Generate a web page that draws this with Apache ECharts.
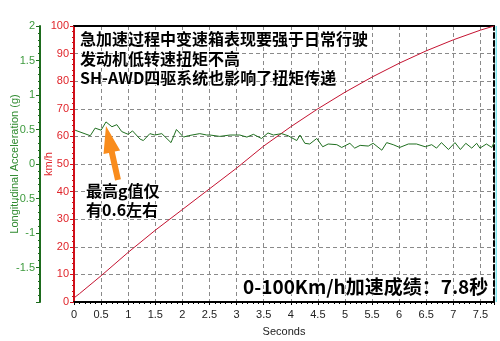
<!DOCTYPE html>
<html>
<head>
<meta charset="utf-8">
<script src="https://cdn.jsdelivr.net/npm/echarts@6/dist/echarts.min.js"></script>
<style>
  html, body { margin: 0; padding: 0; background: #ffffff; }
  #chart { width: 500px; height: 341px; }
</style>
</head>
<body>
<div id="chart"></div>
<script>
// Longitudinal acceleration trace (g) against time (s)
const accelTime = [0.02, 0.30, 0.39, 0.50, 0.59, 0.70, 0.79, 0.88, 1.00, 1.08, 1.22, 1.28, 1.40, 1.49, 1.62,
  1.79, 1.89, 2.02, 2.11, 2.32, 2.45, 2.51, 2.69, 2.88, 3.06, 3.19, 3.31, 3.46, 3.58, 3.68, 3.83, 3.95,
  4.11, 4.17, 4.26, 4.35, 4.48, 4.59, 4.69, 4.85, 4.94, 5.09, 5.18, 5.28, 5.43, 5.52, 5.68, 5.77, 5.89,
  6.01, 6.17, 6.32, 6.48, 6.60, 6.69, 6.78, 6.91, 7.03, 7.13, 7.23, 7.34, 7.43, 7.49, 7.61, 7.71, 7.75];
const accelG = [0.49, 0.41, 0.52, 0.49, 0.61, 0.54, 0.57, 0.47, 0.43, 0.48, 0.36, 0.34, 0.44, 0.42, 0.44,
  0.31, 0.50, 0.39, 0.41, 0.44, 0.42, 0.42, 0.40, 0.42, 0.42, 0.39, 0.43, 0.37, 0.45, 0.42, 0.44, 0.41,
  0.34, 0.42, 0.30, 0.29, 0.37, 0.25, 0.29, 0.28, 0.24, 0.30, 0.23, 0.27, 0.26, 0.30, 0.20, 0.31, 0.28,
  0.24, 0.29, 0.29, 0.25, 0.28, 0.23, 0.31, 0.21, 0.31, 0.21, 0.30, 0.23, 0.30, 0.23, 0.29, 0.24, 0.31];

// Vehicle speed (km/h) against time (s)
const speedTime = [0, 0.1, 0.5, 1.0, 1.5, 2.0, 2.5, 3.0, 3.5, 4.0, 4.5, 5.0, 5.5, 6.0, 6.5, 7.0, 7.5, 7.75];
const speedKmh = [1.5, 3, 9.5, 18, 26, 33.5, 41, 48.5, 56.5, 63.5, 70, 76, 81.5, 86.5, 91, 95, 98.5, 100];

// Peak acceleration point the arrow points at
const peakPoint = [0.59, 0.61];

// Axis ranges
const timeMax = 7.75;
const speedRange = [0, 100];
const accelRange = [-2, 2];

const notesTop = ['急加速过程中变速箱表现要强于日常行驶', '发动机低转速扭矩不高', 'SH-AWD四驱系统也影响了扭矩传递'];
const notePeak = ['最高g值仅', '有0.6左右'];
const noteResult = '0-100Km/h加速成绩：7.8秒';

const zip = (xs, ys) => xs.map((x, i) => [x, ys[i]]);

const chart = echarts.init(document.getElementById('chart'), null, { renderer: 'canvas' });

const labelFont = { fontFamily: 'Liberation Sans, Arial, sans-serif', fontSize: 11 };
const cjkFont = '"Noto Sans CJK SC", sans-serif';

const option = {
  backgroundColor: '#ffffff',
  animation: false,
  grid: { left: 74, right: 6, top: 26, bottom: 39, containLabel: false, outerBoundsMode: 'none' },
  xAxis: [
    {
      type: 'value', min: 0, max: timeMax, interval: 0.5,
      name: 'Seconds', nameLocation: 'middle', nameGap: 24, nameMoveOverlap: false,
      nameTextStyle: Object.assign({ color: '#222' }, labelFont),
      axisLine: { onZero: false, lineStyle: { color: '#000', width: 2 } },
      axisTick: { show: true, length: 3, lineStyle: { color: '#000' } },
      minorTick: { show: true, splitNumber: 5, length: 2, lineStyle: { color: '#000' } },
      axisLabel: Object.assign({ color: '#222', margin: 7, showMaxLabel: false }, labelFont),
      splitLine: { show: true, lineStyle: { color: '#8a8a8a', type: [4, 3], width: 1 } }
    },
    {
      type: 'value', min: 0, max: timeMax, position: 'top',
      axisLine: { onZero: false, lineStyle: { color: '#000', width: 2 } },
      axisTick: { show: false }, axisLabel: { show: false }, splitLine: { show: false }
    }
  ],
  yAxis: [
    {
      type: 'value', min: speedRange[0], max: speedRange[1], interval: 10, position: 'left',
      name: 'km/h', nameLocation: 'middle', nameGap: 20, nameRotate: 90, nameMoveOverlap: false,
      nameTextStyle: Object.assign({ color: '#e0242a' }, labelFont),
      axisLine: { show: true, onZero: false, lineStyle: { color: '#d0101a', width: 2 } },
      axisTick: { show: true, length: 4, lineStyle: { color: '#d0101a' } },
      minorTick: { show: true, splitNumber: 5, length: 2, lineStyle: { color: '#d0101a' } },
      axisLabel: Object.assign({ color: '#e0242a', margin: 5 }, labelFont),
      splitLine: { show: true, lineStyle: { color: '#8a8a8a', type: [4, 3], width: 1 } }
    },
    {
      type: 'value', min: accelRange[0], max: accelRange[1], interval: 0.5, position: 'left', offset: 34,
      name: 'Longitudinal Acceleration (g)', nameLocation: 'middle', nameGap: 20, nameRotate: 90,
      nameMoveOverlap: false,
      nameTextStyle: Object.assign({ color: '#2f8a2f' }, labelFont),
      axisLine: { show: true, onZero: false, lineStyle: { color: '#1d6b1d', width: 2 } },
      axisTick: { show: true, length: 4, lineStyle: { color: '#1d6b1d' } },
      minorTick: { show: true, splitNumber: 5, length: 2, lineStyle: { color: '#1d6b1d' } },
      axisLabel: Object.assign({ color: '#3d9a3d', margin: 5, showMinLabel: false }, labelFont),
      splitLine: { show: false }
    },
    {
      type: 'value', min: speedRange[0], max: speedRange[1], position: 'right',
      axisLine: { show: true, onZero: false, lineStyle: { color: '#000', width: 2, type: [5, 3] } },
      axisTick: { show: false }, axisLabel: { show: false }, splitLine: { show: false }
    }
  ],
  series: [
    {
      type: 'line', name: 'speed', xAxisIndex: 0, yAxisIndex: 0,
      data: zip(speedTime, speedKmh), showSymbol: false, smooth: false,
      lineStyle: { color: '#c41230', width: 1 }, z: 3
    },
    {
      type: 'line', name: 'accel', xAxisIndex: 0, yAxisIndex: 1,
      data: zip(accelTime, accelG), showSymbol: false, smooth: false,
      lineStyle: { color: '#1f6f1f', width: 1 }, z: 4
    }
  ]
};

chart.setOption(option);

// Annotations: notes, peak arrow, border accent
const tip = chart.convertToPixel({ xAxisIndex: 0, yAxisIndex: 1 }, peakPoint);
tip[1] += 4;
const tail = [tip[0] + 12, tip[1] + 54];
const dx = tail[0] - tip[0], dy = tail[1] - tip[1];
const len = Math.hypot(dx, dy);
const ux = dx / len, uy = dy / len;
const nx = -uy, ny = ux;
const headLen = 27, headHalf = 8.5, shaftHalf = 3;
const hb = [tip[0] + ux * headLen, tip[1] + uy * headLen];
const arrowPts = [
  tip,
  [hb[0] + nx * headHalf, hb[1] + ny * headHalf],
  [hb[0] + nx * shaftHalf, hb[1] + ny * shaftHalf],
  [tail[0] + nx * shaftHalf, tail[1] + ny * shaftHalf],
  [tail[0] - nx * shaftHalf, tail[1] - ny * shaftHalf],
  [hb[0] - nx * shaftHalf, hb[1] - ny * shaftHalf],
  [hb[0] - nx * headHalf, hb[1] - ny * headHalf]
];

const gridRight = chart.convertToPixel({ xAxisIndex: 0 }, timeMax);
const gridTop = chart.convertToPixel({ yAxisIndex: 0 }, speedRange[1]);
const gridBottom = chart.convertToPixel({ yAxisIndex: 0 }, speedRange[0]);

const noteStyle = (text, x, y, size) => ({
  type: 'text', z: 100,
  style: {
    text: text, x: x, y: y,
    fontFamily: cjkFont, fontWeight: 'bold', fontSize: size,
    fill: '#000', stroke: '#ffffff', lineWidth: 1.5,
    textAlign: 'left', textVerticalAlign: 'middle'
  }
});

const graphics = [];
graphics.push({
  type: 'rect', z: 90,
  shape: { x: gridRight + 1.5, y: gridTop, width: 1.5, height: gridBottom - gridTop },
  style: { fill: '#7fe6ee' }
});
graphics.push({
  type: 'polygon', z: 95,
  shape: { points: arrowPts },
  style: { fill: '#f98c1c' }
});
notesTop.forEach((t, i) => graphics.push(noteStyle(t, 80, 39 + i * 19.5, 16)));
notePeak.forEach((t, i) => graphics.push(noteStyle(t, 86, 191 + i * 18.5, 16)));
graphics.push(noteStyle(noteResult, 243, 287, 19));

chart.setOption({ graphic: graphics });
</script>
</body>
</html>
